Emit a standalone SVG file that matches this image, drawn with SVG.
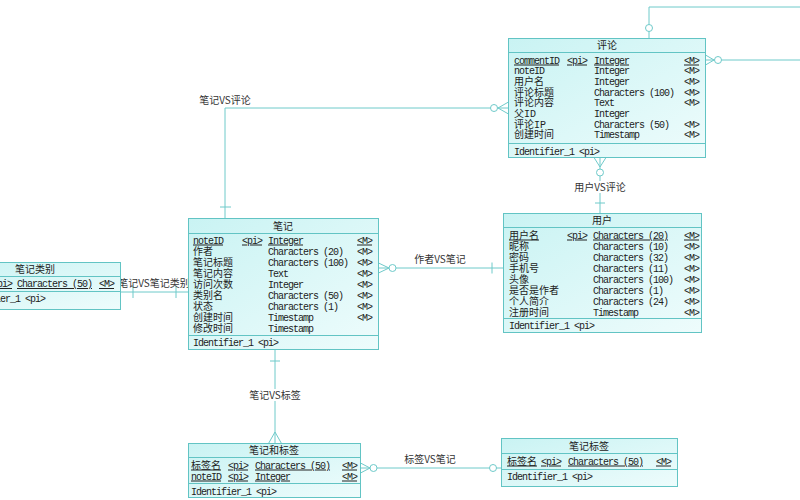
<svg xmlns="http://www.w3.org/2000/svg" width="800" height="500" viewBox="0 0 800 500">
<defs>
<linearGradient id="fillG" x1="0" y1="0" x2="1" y2="1">
<stop offset="0" stop-color="#c9f3f3"/>
<stop offset="1" stop-color="#eefcfc"/>
</linearGradient>
<style>
.box{fill:url(#fillG);stroke:#62c4c4;stroke-width:1}
.sep{stroke:#62c4c4;stroke-width:1;fill:none}
.t{font-family:"Liberation Mono","Noto Sans CJK SC",monospace;font-size:10px;fill:#222}
.a{letter-spacing:-1px}
.u{text-decoration:underline}
.h{font-family:"Noto Sans CJK SC","Liberation Sans",sans-serif;font-size:10px;fill:#222;text-anchor:middle}
.c{stroke:#6fcaca;stroke-width:1;fill:none}
.o{stroke:#6fcaca;stroke-width:1;fill:#fff}
.lb{font-family:"Noto Sans CJK SC","Liberation Sans",sans-serif;font-size:10px;fill:#333;text-anchor:middle}
.bg{fill:#fff}
</style>
</defs>
<rect width="800" height="500" fill="#fff"/>

<g id="connectors">
<!-- 笔记VS评论 -->
<path class="c" d="M225,218.5 V108 H509"/>
<path class="c" d="M220,207 H231"/>
<path class="c" d="M498,108 L508.5,102 M498,108 L508.5,114"/>
<circle class="o" cx="494" cy="108" r="3.5"/>
<text class="lb" x="225" y="104">笔记VS评论</text>
<!-- top connector -->
<path class="c" d="M649,38.5 V7 H800"/>
<circle class="o" cx="649" cy="28" r="3.5"/>
<!-- right connector -->
<path class="c" d="M705.5,60 H800"/>
<path class="c" d="M714,60 L705.5,55 M714,60 L705.5,65"/>
<circle class="o" cx="718" cy="60" r="3.5"/>
<!-- 用户VS评论 -->
<path class="c" d="M600,157.5 V213.5"/>
<path class="c" d="M600,167 L594,157.5 M600,167 L606,157.5"/>
<circle class="o" cx="600" cy="172.5" r="3.5"/>
<path class="c" d="M595,203 H605"/>
<rect class="bg" x="574" y="181" width="52" height="12"/>
<text class="lb" x="600" y="191">用户VS评论</text>
<!-- 作者VS笔记 -->
<path class="c" d="M378.5,268 H503.5"/>
<path class="c" d="M389,268 L378.5,263 M389,268 L378.5,273"/>
<circle class="o" cx="392.5" cy="268" r="3.5"/>
<path class="c" d="M492,262.5 V273.5"/>
<text class="lb" x="440" y="263">作者VS笔记</text>
<!-- 笔记VS笔记类别 -->
<path class="c" d="M120.5,292 H188.5"/>
<path class="c" d="M133,286 V298 M176,286 V298"/>
<text class="lb" x="154" y="287">笔记VS笔记类别</text>
<!-- 笔记VS标签 -->
<path class="c" d="M275,348.5 V443.5"/>
<path class="c" d="M270,361 H280"/>
<path class="c" d="M275,432 L268.5,443.5 M275,432 L281.5,443.5"/>
<rect class="bg" x="248" y="389" width="54" height="12"/>
<text class="lb" x="275" y="399">笔记VS标签</text>
<!-- 标签VS笔记 -->
<path class="c" d="M360.5,468 H501.5"/>
<path class="c" d="M370,468 L360.5,463 M370,468 L360.5,473"/>
<circle class="o" cx="373.5" cy="468" r="3.5"/>
<circle class="o" cx="493" cy="468" r="3.5"/>
<text class="lb" x="430" y="463">标签VS笔记</text>
</g>

<g id="pinglun">
<rect class="box" x="508.5" y="38.5" width="197" height="119"/>
<path class="sep" d="M508.5,52.5 H705.5 M508.5,143.5 H705.5"/>
<text class="h" x="607" y="49">评论</text>
<text class="t a u" x="514" y="63.5">commentID</text><text class="t a u" x="567" y="63.5">&lt;pi&gt;</text><text class="t a u" x="594" y="63.5">Integer</text><text class="t a u" x="684" y="63.5">&lt;M&gt;</text>
<text class="t a" x="514" y="74.2">noteID</text><text class="t a" x="594" y="74.2">Integer</text><text class="t a" x="684" y="74.2">&lt;M&gt;</text>
<text class="t" x="514" y="84.9">用户名</text><text class="t a" x="594" y="84.9">Integer</text><text class="t a" x="684" y="84.9">&lt;M&gt;</text>
<text class="t" x="514" y="95.6">评论标题</text><text class="t a" x="594" y="95.6">Characters (100)</text><text class="t a" x="684" y="95.6">&lt;M&gt;</text>
<text class="t" x="514" y="106.3">评论内容</text><text class="t a" x="594" y="106.3">Text</text><text class="t a" x="684" y="106.3">&lt;M&gt;</text>
<text class="t" x="514" y="117">父ID</text><text class="t a" x="594" y="117">Integer</text>
<text class="t" x="514" y="127.7">评论IP</text><text class="t a" x="594" y="127.7">Characters (50)</text><text class="t a" x="684" y="127.7">&lt;M&gt;</text>
<text class="t" x="514" y="138.4">创建时间</text><text class="t a" x="594" y="138.4">Timestamp</text><text class="t a" x="684" y="138.4">&lt;M&gt;</text>
<text class="t a" x="514" y="154.5">Identifier_1 &lt;pi&gt;</text>
</g>

<g id="yonghu">
<rect class="box" x="503.5" y="213.5" width="198" height="119"/>
<path class="sep" d="M503.5,227.5 H701.5 M503.5,318.5 H701.5"/>
<text class="h" x="602" y="224">用户</text>
<text class="t u" x="509" y="238.5">用户名</text><text class="t a u" x="567" y="238.5">&lt;pi&gt;</text><text class="t a u" x="593" y="238.5">Characters (20)</text><text class="t a u" x="684" y="238.5">&lt;M&gt;</text>
<text class="t" x="509" y="249.5">昵称</text><text class="t a" x="593" y="249.5">Characters (10)</text><text class="t a" x="684" y="249.5">&lt;M&gt;</text>
<text class="t" x="509" y="260.5">密码</text><text class="t a" x="593" y="260.5">Characters (32)</text><text class="t a" x="684" y="260.5">&lt;M&gt;</text>
<text class="t" x="509" y="271.5">手机号</text><text class="t a" x="593" y="271.5">Characters (11)</text><text class="t a" x="684" y="271.5">&lt;M&gt;</text>
<text class="t" x="509" y="282.5">头像</text><text class="t a" x="593" y="282.5">Characters (100)</text><text class="t a" x="684" y="282.5">&lt;M&gt;</text>
<text class="t" x="509" y="293.5">是否是作者</text><text class="t a" x="593" y="293.5">Characters (1)</text><text class="t a" x="684" y="293.5">&lt;M&gt;</text>
<text class="t" x="509" y="304.5">个人简介</text><text class="t a" x="593" y="304.5">Characters (24)</text><text class="t a" x="684" y="304.5">&lt;M&gt;</text>
<text class="t" x="509" y="315.5">注册时间</text><text class="t a" x="593" y="315.5">Timestamp</text><text class="t a" x="684" y="315.5">&lt;M&gt;</text>
<text class="t a" x="509" y="329">Identifier_1 &lt;pi&gt;</text>
</g>

<g id="biji">
<rect class="box" x="188.5" y="218.5" width="190" height="131"/>
<path class="sep" d="M188.5,233.5 H378.5 M188.5,335.5 H378.5"/>
<text class="h" x="283" y="230">笔记</text>
<text class="t a u" x="193" y="243.5">noteID</text><text class="t a u" x="242" y="243.5">&lt;pi&gt;</text><text class="t a u" x="268" y="243.5">Integer</text><text class="t a u" x="357" y="243.5">&lt;M&gt;</text>
<text class="t" x="193" y="254.5">作者</text><text class="t a" x="268" y="254.5">Characters (20)</text><text class="t a" x="357" y="254.5">&lt;M&gt;</text>
<text class="t" x="193" y="265.5">笔记标题</text><text class="t a" x="268" y="265.5">Characters (100)</text><text class="t a" x="357" y="265.5">&lt;M&gt;</text>
<text class="t" x="193" y="276.5">笔记内容</text><text class="t a" x="268" y="276.5">Text</text><text class="t a" x="357" y="276.5">&lt;M&gt;</text>
<text class="t" x="193" y="287.5">访问次数</text><text class="t a" x="268" y="287.5">Integer</text><text class="t a" x="357" y="287.5">&lt;M&gt;</text>
<text class="t" x="193" y="298.5">类别名</text><text class="t a" x="268" y="298.5">Characters (50)</text><text class="t a" x="357" y="298.5">&lt;M&gt;</text>
<text class="t" x="193" y="309.5">状态</text><text class="t a" x="268" y="309.5">Characters (1)</text><text class="t a" x="357" y="309.5">&lt;M&gt;</text>
<text class="t" x="193" y="320.5">创建时间</text><text class="t a" x="268" y="320.5">Timestamp</text><text class="t a" x="357" y="320.5">&lt;M&gt;</text>
<text class="t" x="193" y="331.5">修改时间</text><text class="t a" x="268" y="331.5">Timestamp</text>
<text class="t a" x="193" y="345.5">Identifier_1 &lt;pi&gt;</text>
</g>

<g id="bijileibie">
<rect class="box" x="-51.5" y="262.5" width="172" height="47"/>
<path class="sep" d="M-51.5,276.5 H120.5 M-51.5,291.5 H120.5"/>
<text class="h" x="35" y="273">笔记类别</text>
<text class="t u" x="-46" y="287">类别名</text><text class="t a u" x="-8" y="287">&lt;pi&gt;</text><text class="t a u" x="17" y="287">Characters (50)</text><text class="t a u" x="99" y="287">&lt;M&gt;</text>
<text class="t a" x="-40" y="302">Identifier_1 &lt;pi&gt;</text>
</g>

<g id="bijihebiaoqian">
<rect class="box" x="188.5" y="443.5" width="172" height="54"/>
<path class="sep" d="M188.5,457.5 H360.5 M188.5,483.5 H360.5"/>
<text class="h" x="274" y="454">笔记和标签</text>
<text class="t u" x="191" y="468.5">标签名</text><text class="t a u" x="228" y="468.5">&lt;pi&gt;</text><text class="t a u" x="255" y="468.5">Characters (50)</text><text class="t a u" x="342" y="468.5">&lt;M&gt;</text>
<text class="t a u" x="191" y="479.5">noteID</text><text class="t a u" x="228" y="479.5">&lt;pi&gt;</text><text class="t a u" x="255" y="479.5">Integer</text><text class="t a u" x="342" y="479.5">&lt;M&gt;</text>
<text class="t a" x="191" y="494.5">Identifier_1 &lt;pi&gt;</text>
</g>

<g id="bijibiaoqian">
<rect class="box" x="501.5" y="438.5" width="176" height="48"/>
<path class="sep" d="M501.5,453.5 H677.5 M501.5,469.5 H677.5"/>
<text class="h" x="589" y="450">笔记标签</text>
<text class="t u" x="507" y="464.5">标签名</text><text class="t a u" x="541" y="464.5">&lt;pi&gt;</text><text class="t a u" x="568" y="464.5">Characters (50)</text><text class="t a u" x="656" y="464.5">&lt;M&gt;</text>
<text class="t a" x="507" y="480">Identifier_1 &lt;pi&gt;</text>
</g>
</svg>
